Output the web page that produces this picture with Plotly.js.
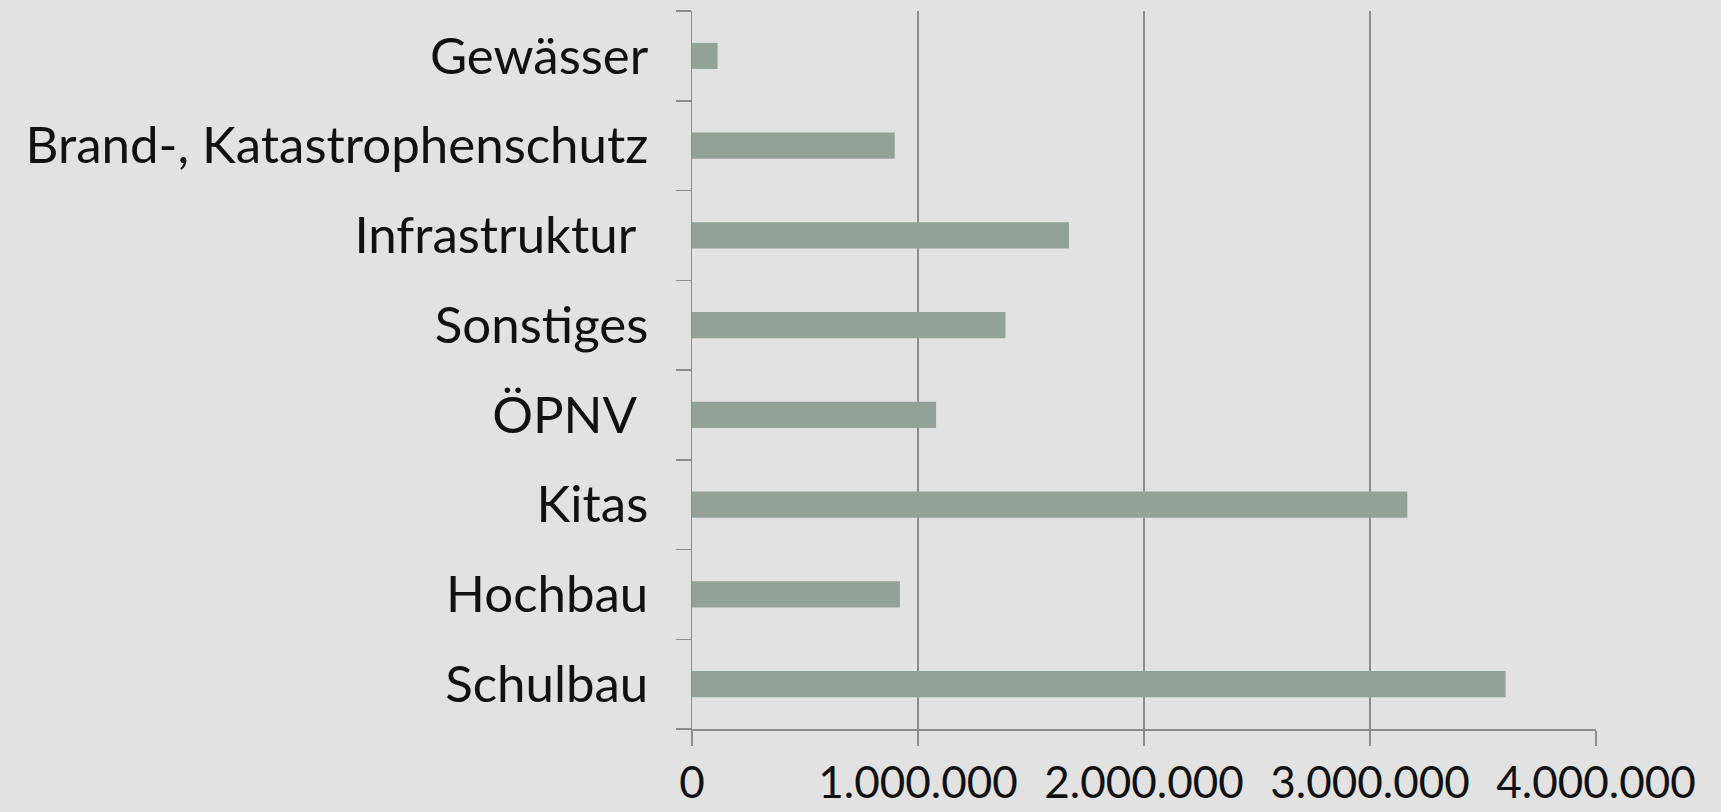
<!DOCTYPE html>
<html>
<head>
<meta charset="utf-8">
<script src="https://cdn.plot.ly/plotly-3.0.1.min.js"></script>
<style>
  html, body { margin: 0; padding: 0; background: #e2e2e2; }
  #chart { width: 1721px; height: 812px; }
</style>
</head>
<body>
<div id="chart"></div>
<script>
// Categories listed bottom to top (Plotly draws the first category at the bottom)
const categories = [
  "Schulbau",
  "Hochbau",
  "Kitas",
  "ÖPNV\u00a0",
  "Sonstiges",
  "Infrastruktur\u00a0",
  "Brand-, Katastrophenschutz",
  "Gewässer"
];
const values = [3600000, 920000, 3165000, 1080000, 1387000, 1668000, 897000, 113000];
const xTickValues = [0, 1000000, 2000000, 3000000, 4000000];

const trace = {
  type: "bar",
  orientation: "h",
  y: categories,
  x: values,
  marker: { color: "#93a297" },
  hoverinfo: "x+y"
};

const layout = {
  width: 1721,
  height: 812,
  margin: { l: 692, r: 125, t: 11, b: 83 },
  paper_bgcolor: "#e2e2e2",
  plot_bgcolor: "#e2e2e2",
  separators: ",.",
  bargap: 0.71,
  showlegend: false,
  font: { family: "Lato, 'Noto Sans', sans-serif", color: "#111111" },
  xaxis: {
    range: [0, 4000000],
    tickvals: xTickValues,
    tickformat: ",d",
    showgrid: true,
    gridcolor: "#8c8c8c",
    gridwidth: 1.5,
    zeroline: false,
    showline: true,
    linecolor: "#8c8c8c",
    linewidth: 1.5,
    ticks: "outside",
    ticklen: 15,
    tickwidth: 1.5,
    tickcolor: "#8c8c8c",
    ticklabelstandoff: 0,
    tickfont: { size: 44, family: "Lato, 'Noto Sans', sans-serif", color: "#111111" },
    fixedrange: true
  },
  yaxis: {
    type: "category",
    range: [-0.5, 7.5],
    showgrid: false,
    zeroline: false,
    showline: true,
    linecolor: "#8c8c8c",
    linewidth: 1.5,
    ticks: "outside",
    tickson: "boundaries",
    ticklen: 15,
    tickwidth: 1.5,
    tickcolor: "#8c8c8c",
    ticklabelstandoff: 32,
    tickfont: { size: 51, family: "Lato, 'Noto Sans', sans-serif", color: "#111111" },
    fixedrange: true
  }
};

Plotly.newPlot("chart", [trace], layout, { displayModeBar: false, staticPlot: true });
</script>
</body>
</html>
